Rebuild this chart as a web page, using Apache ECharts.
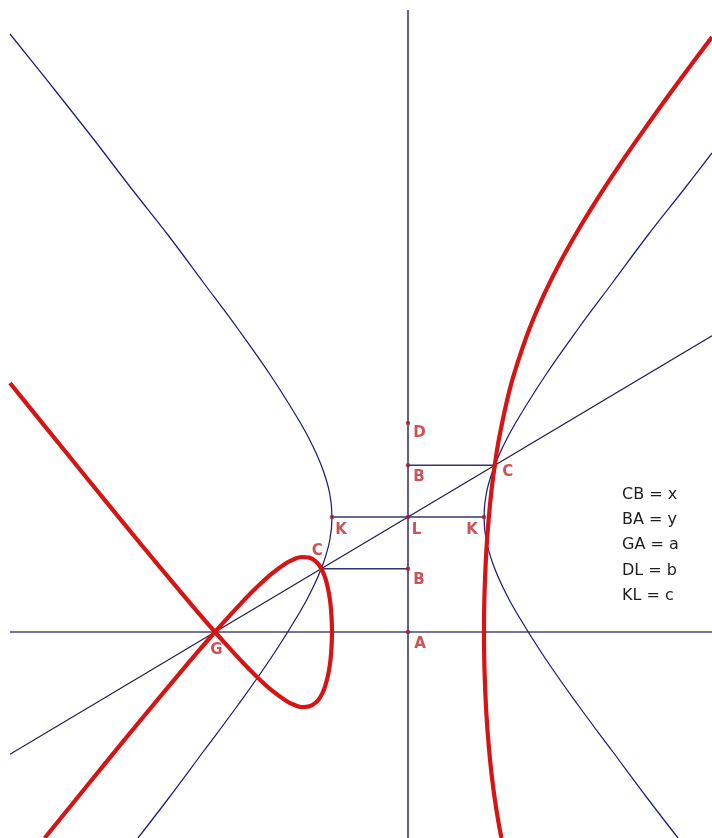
<!DOCTYPE html>
<html><head><meta charset="utf-8">
<script src="https://cdn.jsdelivr.net/npm/echarts@6/dist/echarts.min.js"></script>
<style>html,body{margin:0;padding:0;background:#fff}#c{width:712px;height:838px}</style>
</head><body><div id="c"></div>
<script>
// All coordinates, in pixels relative to point A (x to the right, y upward)
const xRange = [-408, 304];
const yRange = [-206, 632];

const pointNames = ['D', 'B', 'L', 'B', 'A', 'K', 'K', 'C', 'C', 'G'];
const pointCoords = [[0, 209], [0, 166.7], [0, 115], [0, 63.3], [0, 0], [-76, 115], [76, 115], [86.7, 166.7], [-86.7, 63.3], [-193, 0]];

const verticalAxisLine = [[0, 622], [0, -206]];
const horizontalAxisLine = [[-398, 0], [304, 0]];
const lineGL = [[-398, -122.2], [304, 296.2]];
const segmentKK = [[-76, 115], [76, 115]];
const segmentBC = [[0, 166.7], [86.7, 166.7]];
const segmentCB = [[-86.7, 63.3], [0, 63.3]];

const hyperbolaLeft = [[-398, 598], [-350, 538], [-313, 491], [-277, 444], [-240, 397], [-205, 350], [-170, 303], [-137, 256], [-107.5, 209], [-95, 185.5], [-85, 162], [-78.3, 138.5], [-76, 115], [-78.3, 91.5], [-85, 68], [-95, 44.5], [-107.5, 21], [-137, -26], [-170, -73], [-205, -120], [-240, -167], [-270, -206]];
const hyperbolaRight = [[304, 479], [277, 444], [240, 397], [205, 350], [170, 303], [137, 256], [107.5, 209], [95, 185.5], [85, 162], [78.3, 138.5], [76, 115], [78.3, 91.5], [85, 68], [95, 44.5], [107.5, 21], [137, -26], [170, -73], [205, -120], [240, -167], [270, -206]];

const cubicLeft = [[-398, 249], [-380, 226.6], [-342, 179.7], [-304, 132.9], [-266, 86.5], [-228, 40.8], [-209, 18.4], [-193, 0],
  [-182.4, -11.9], [-167.2, -28.4], [-152, -43.9], [-136.8, -57.8], [-121.6, -68.9], [-114, -72.8], [-106.4, -75], [-98.8, -74.4], [-91.2, -69.6], [-87.4, -64.5], [-83.6, -56.4], [-80.6, -46.1], [-78.3, -34], [-76.8, -20.2], [-76, 0],
  [-76.8, 20.2], [-78.3, 34], [-80.6, 46.1], [-83.6, 56.4], [-87.4, 64.5], [-91.2, 69.6], [-98.8, 74.4], [-106.4, 75], [-114, 72.8], [-121.6, 68.9], [-136.8, 57.8], [-152, 43.9], [-167.2, 28.4], [-182.4, 11.9], [-193, 0],
  [-209, -18.4], [-228, -40.8], [-266, -86.5], [-304, -132.9], [-342, -179.7], [-363.3, -206]];
const cubicRight = [[93.5, -206], [91.2, -194.3], [87.4, -171.3], [83.6, -142.5], [80.6, -112.2], [78.3, -80.4], [76.8, -46.8], [76.15, -21], [76, 0], [76.15, 21], [76.8, 46.8], [78.3, 80.4], [80.6, 112.2], [83.6, 142.5], [87.4, 171.3], [91.2, 194.3], [98.8, 230.6], [106.4, 259.2], [121.6, 303.7], [136.8, 339.2], [152, 369.6], [171, 403.3], [190, 434.2], [209, 463.2], [228, 490.9], [266, 544], [304, 595]];

const legendLines = ['CB = x', 'BA = y', 'GA = a', 'DL = b', 'KL = c'];

// styling (label offsets from each point, in px)
const labelOffsets = [[11.5, 10], [11, 12], [8.5, 13], [11, 11], [12, 12], [9, 13], [-12, 13], [13, 7], [-4, -18], [1.5, 18]];

const chart = echarts.init(document.getElementById('c'), null, { renderer: 'canvas' });

function seg(data, color, width, z) {
  return { type: 'line', data: data, symbol: 'none', showSymbol: false, silent: true, z: z || 1,
    lineStyle: { color: color, width: width }, animation: false };
}
function curve(data, color, width, z) {
  const s = seg(data, color, width, z);
  s.smooth = 0.4;
  return s;
}

const series = [
  seg(verticalAxisLine, '#46467a', 1.7),
  seg(horizontalAxisLine, '#46467a', 1.7),
  seg(lineGL, '#1e1e48', 1.1),
  seg(segmentKK, '#34346c', 1.6),
  seg(segmentBC, '#34346c', 1.6),
  seg(segmentCB, '#34346c', 1.6),
  curve(hyperbolaLeft, '#1c1c7c', 1.25),
  curve(hyperbolaRight, '#1c1c7c', 1.25),
  {
    type: 'scatter', z: 2, silent: true, animation: false,
    symbolSize: 4.5, itemStyle: { color: '#9c1e3c' },
    data: pointCoords.map((p, i) => ({ value: p, name: pointNames[i], label: { offset: labelOffsets[i] } })),
    label: { show: true, position: 'inside', formatter: '{b}', fontFamily: 'DejaVu Sans', fontWeight: 'bold', fontSize: 15, color: '#c0262a', align: 'center', verticalAlign: 'middle' }
  },
  curve(cubicLeft, '#d61414', 4.2, 3),
  curve(cubicRight, '#d61414', 4.2, 3)
];

const legendTop = 495.5, legendStep = 25.3;
const graphic = legendLines.map((t, i) => ({
  type: 'text', left: 622, top: legendTop + i * legendStep - 9,
  style: { text: t, fontFamily: 'DejaVu Sans', fontSize: 16, fill: '#1e1e1e' }
}));

chart.setOption({
  animation: false,
  backgroundColor: '#ffffff',
  grid: { left: 0, right: 0, top: 0, bottom: 0, containLabel: false },
  xAxis: { type: 'value', min: xRange[0], max: xRange[1], show: false },
  yAxis: { type: 'value', min: yRange[0], max: yRange[1], show: false },
  graphic: graphic,
  series: series
});
</script>
</body></html>
